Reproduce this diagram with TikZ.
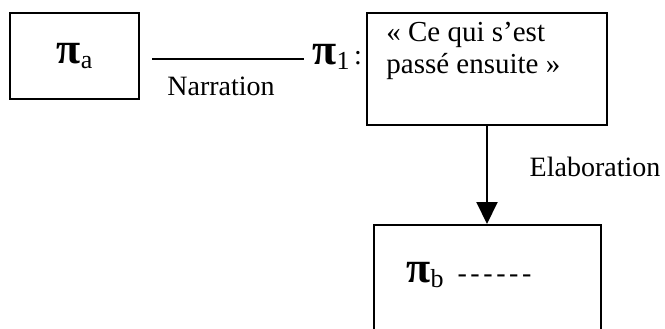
\documentclass[tikz,border=0pt]{standalone}
\usepackage{fontspec}
\setmainfont{Liberation Serif}
\usetikzlibrary{arrows.meta}
\newcommand{\segpi}[1]{{\fontsize{22}{22}\selectfont\bfseries π}\raisebox{-0.45ex}{\fontsize{13}{13}\selectfont #1}}

\begin{document}
\begin{tikzpicture}[x=0.5pt,y=-0.5pt,
    every node/.style={font=\fontsize{14}{14}\selectfont},
    segbox/.style={draw,line width=1pt,inner sep=0pt},
    link/.style={line width=1pt}]
  \clip (0,0) rectangle (665,328);
  % segment a and the narration link
  \node[segbox,minimum width=64.5pt,minimum height=43pt] (pia) at (74.5,56) {\segpi{a}};
  \node[anchor=west,inner sep=0pt] (pione) at (312,57) {\segpi{1}\,:};
  \coordinate (narstart) at (152,59);
  \coordinate (narend) at (304,59);
  \draw[link] (narstart) -- (narend);
  \node (narr) at (221,86) {Narration};
  % segment 1
  \node[segbox,minimum width=120pt,minimum height=56pt] (p1) at (487,69) {};
  \node[anchor=north west,align=left,inner sep=0pt,font=\fontsize{14.5}{16}\selectfont] (p1txt) at ([xshift=10pt,yshift=-5pt]p1.north west) {« Ce qui s’est\\passé ensuite »};
  % segment b and the elaboration link
  \node[segbox,minimum width=113.5pt,minimum height=57.5pt] (pib) at (487.5,282.5) {};
  \node[anchor=west,inner sep=0pt] (pibtxt) at (406,275) {\segpi{b}\hspace{7pt}-\kern1.8pt-\kern1.8pt-\kern1.8pt-\kern1.8pt-\kern1.8pt-};
  \draw[link,-{Triangle[length=11pt,width=10.5pt]}] (p1.south) -- (p1.south |- pib.north);
  \node (elab) at (595,167) {Elaboration};
\end{tikzpicture}
\end{document}
